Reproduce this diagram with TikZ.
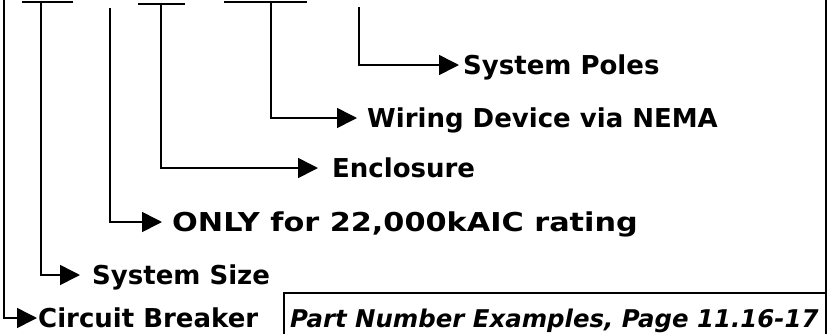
\documentclass[tikz,border=0pt]{standalone}
\usepackage{fontspec}
\setmainfont{DejaVu Sans}
\usetikzlibrary{arrows.meta}
\begin{document}
\begin{tikzpicture}[x=1pt,y=-1pt,
  ln/.style={line width=1.6pt},
  arr/.style={ln,-{Triangle[length=20pt,width=20pt]}},
  lbl/.style={anchor=west,inner sep=0pt,text height=19pt,text depth=0pt,
              font=\fontsize{26}{30}\selectfont\bfseries},
]
\useasboundingbox (0,0) rectangle (833,333);
% top bars
\draw[ln] (22,2) -- (73,2);
\draw[ln] (138,4) -- (185,4);
\draw[ln] (224,2) -- (307,2);
% start points
\coordinate (t1) at (4,0);
\coordinate (t2) at (41,2);
\coordinate (t3) at (110,8);
\coordinate (t4) at (161,4);
\coordinate (t5) at (271,2);
\coordinate (t6) at (359,7);
% labels
\node[lbl] (cb) at (38,318) {Circuit Breaker};
\node[lbl] (size) at (92,275) {System Size};
\node[lbl] (only) at (172,222) {\scalebox{1.165}[1]{ONLY for 22,000kAIC rating}};
\node[lbl] (encl) at (332,168) {Enclosure};
\node[lbl] (wire) at (367,118) {Wiring Device via NEMA};
\node[lbl] (poles) at (463,65) {System Poles};
% connectors
\draw[arr] (t1) |- ([xshift=-1pt]cb.west);
\draw[arr] (t2) |- ([xshift=-12pt]size.west);
\draw[arr] (t3) |- ([xshift=-10pt]only.west);
\draw[arr] (t4) |- ([xshift=-14pt]encl.west);
\draw[arr] (t5) |- ([xshift=-10pt]wire.west);
\draw[arr] (t6) |- ([xshift=-4pt]poles.west);
% right border and box
\draw[ln] (826,0) -- (826,334);
\draw[ln] (284,334) |- (826,293);
\node[anchor=base west,inner sep=0pt,font=\fontsize{24.4}{28}\selectfont\bfseries\itshape] (part) at (290,327) {Part Number Examples, Page 11.16-17};
\end{tikzpicture}
\end{document}
